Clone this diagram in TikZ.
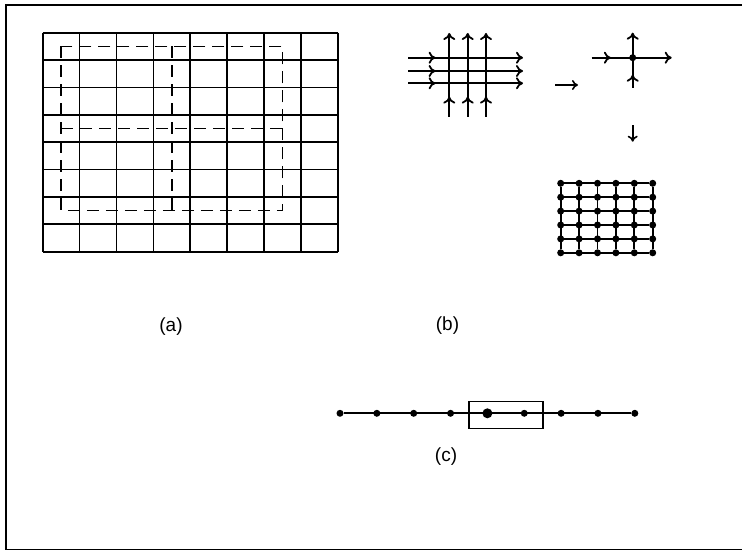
\documentclass[tikz,border=0pt]{standalone}
\usepackage{fontspec}
\setmainfont{Liberation Sans}
\usetikzlibrary{arrows.meta,decorations.markings}

\tikzset{
  cell/.style={line width=1.7pt},
  block/.style={line width=1.6pt, dash pattern=on 12pt off 7pt},
  tip/.style={-{Computer Modern Rightarrow[length=7pt,width=12pt]}},
  flow/.style={line width=1.8pt, tip,
    postaction={decorate, decoration={markings,
      mark=at position 0.24 with {\arrow{Computer Modern Rightarrow[length=7pt,width=12pt]}}}}},
  hop/.style={line width=1.6pt, -{Computer Modern Rightarrow[length=6pt,width=10pt]}},
  dot/.style={circle, fill, inner sep=0pt, minimum size=7pt},
  bigdot/.style={dot, minimum size=10pt},
  mesh/.style={line width=1.9pt},
  partname/.style={font=\fontsize{19}{22}\selectfont},
}

\begin{document}
\begin{tikzpicture}[x=1pt, y=-1pt]
\useasboundingbox (0,0) rectangle (742,551);
\draw[line width=1.8pt] (742,5) -- (6,5) -- (6,549.5) -- (742,549.5);

% (a) cells and blocks
\begin{scope}[shift={(42.7,32.7)}, x=36.9pt, y=-27.375pt]
  \foreach \i in {0,...,8} \draw[cell] (\i,0) -- (\i,8);
  \foreach \j in {0,...,8} \draw[cell] (0,\j) -- (8,\j);
  \draw[block] (0.5,0.5) rectangle (6.5,6.5);
  \draw[block] (0.5,3.5) -- (6.5,3.5);
  \draw[block] (3.5,0.5) -- (3.5,6.5);
\end{scope}
\node[partname] (lbla) at (171,327) {(a)};

% (b) crossing flows
\foreach \y [count=\k] in {57.7,71,83.3} {
  \coordinate (h\k w) at (408,\y);
  \coordinate (h\k e) at (523,\y);
  \draw[flow] (h\k w) -- (h\k e);
}
\foreach \x [count=\k] in {449.3,467.7,486} {
  \coordinate (v\k s) at (\x,116.7);
  \coordinate (v\k n) at (\x,33);
  \draw[flow] (v\k s) -- (v\k n);
}

\coordinate (t1) at (555,85);
\coordinate (t2) at (578,85);
\draw[hop] (t1) -- (t2);

% single crossing
\node[dot] (hub) at (632.7,57.7) {};
\coordinate (cw) at (591.7,57.7);
\coordinate (ce) at (671.7,57.7);
\coordinate (cs) at (632.7,88);
\coordinate (cn) at (632.7,32.7);
\draw[flow] (cw) -- (ce);
\draw[flow] (cs) -- (cn);

\coordinate (d1) at (632.7,125);
\coordinate (d2) at (632.7,141.7);
\draw[hop] (d1) -- (d2);

% point mesh
\foreach \i in {0,...,5}
  \foreach \j in {0,...,5}
    \node[dot] (g-\i-\j) at ({560.7+18.4*\i},{183.3+13.9*\j}) {};
\foreach \i in {0,...,5} \draw[mesh] (g-\i-0) -- (g-\i-5);
\foreach \j in {0,...,5} \draw[mesh] (g-0-\j) -- (g-5-\j);
\node[partname] (lblb) at (447.5,326) {(b)};

% (c) chain
\foreach \i in {0,1,2,3,5,6,7,8}
  \node[dot] (c\i) at ({340+36.85*\i},413.3) {};
\node[bigdot] (c4) at (487.4,413.3) {};
\draw[mesh] (c0) -- (c8);
\node[draw, line width=1.6pt, minimum width=73.7pt, minimum height=26.7pt, inner sep=0pt] (window) at (505.85,415) {};
\node[partname] (lblc) at (446,457) {(c)};
\end{tikzpicture}
\end{document}
